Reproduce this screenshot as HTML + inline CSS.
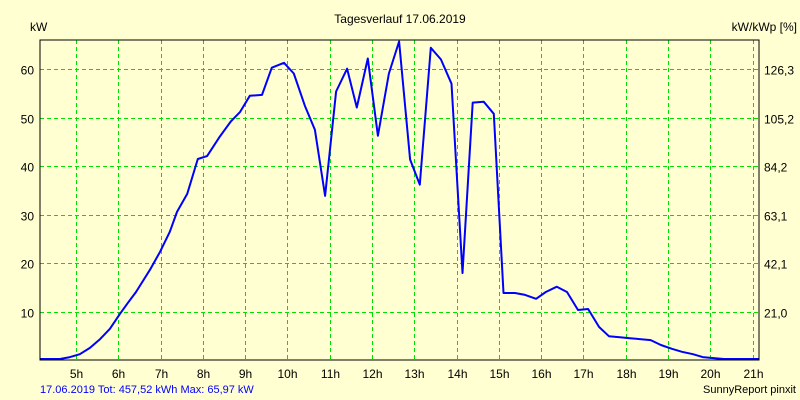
<!DOCTYPE html>
<html><head><meta charset="utf-8"><style>
html,body{margin:0;padding:0;background:#ffffd2;}
svg{display:block;font-family:"Liberation Sans",sans-serif;}
</style></head><body>
<svg id="chart" width="800" height="400">
<rect x="0" y="0" width="800" height="400" fill="#ffffd2"/>
<text x="400" y="23" font-size="12" text-anchor="middle" fill="#000">Tagesverlauf 17.06.2019</text>
<text x="30" y="31" font-size="12" fill="#000">kW</text>
<text x="797" y="31" font-size="12" text-anchor="end" fill="#000">kW/kWp [%]</text>
<g id="grid"></g>
<g id="labels"></g>
<polyline id="line" fill="none" stroke="#0000ff" stroke-width="2" stroke-linejoin="round"/>
<rect x="40" y="40" width="719" height="320" fill="none" stroke="#000" stroke-width="1"/>
<text x="40" y="393" font-size="11" fill="#0000ff">17.06.2019 Tot: 457,52 kWh Max: 65,97 kW</text>
<text x="796" y="393" font-size="11" text-anchor="end" fill="#000">SunnyReport pinxit</text>
</svg>
<script>
const hours=[4.15,4.62,4.86,5.09,5.33,5.57,5.80,6.04,6.23,6.42,6.75,6.99,7.22,7.39,7.63,7.88,8.10,8.40,8.66,8.88,9.11,9.40,9.63,9.92,10.15,10.41,10.65,10.89,11.15,11.41,11.64,11.90,12.14,12.40,12.64,12.90,13.13,13.39,13.63,13.88,14.14,14.38,14.64,14.88,15.11,15.38,15.62,15.88,16.11,16.37,16.61,16.87,17.11,17.37,17.60,17.86,18.10,18.33,18.59,18.83,19.09,19.33,19.59,19.82,20.08,20.32,21.15];
const powerKW=[0.3,0.3,0.7,1.3,2.6,4.4,6.5,9.6,11.9,14.1,18.7,22.4,26.5,30.6,34.3,41.5,42.1,46.1,49.2,51.2,54.5,54.7,60.3,61.3,59.1,52.5,47.5,33.9,55.4,60.1,52.1,62.2,46.3,59.1,65.7,41.4,36.2,64.4,62.0,57.0,18.0,53.1,53.3,50.8,13.9,13.9,13.5,12.7,14.1,15.2,14.1,10.4,10.6,6.9,5.0,4.8,4.6,4.4,4.2,3.2,2.4,1.8,1.3,0.7,0.5,0.3,0.3];
const xTicks=[5,6,7,8,9,10,11,12,13,14,15,16,17,18,19,20,21];
const yTicks=[10,20,30,40,50,60];
const yRightLabels=["21,0","42,1","63,1","84,2","105,2","126,3"];
const X0=40,X1=759,Y0=360.5,Y1=40;
const H0=4.15,H1=21.15,V0=0,V1=66.0;
function xs(h){return X0+(h-H0)/(H1-H0)*(X1-X0);}
function ys(v){return Y0-(v-V0)/(V1-V0)*(Y0-Y1);}
const NS="http://www.w3.org/2000/svg";
const grid=document.getElementById('grid'),labels=document.getElementById('labels');
xTicks.forEach(h=>{
  const x=Math.round(xs(h))+0.5;
  const l=document.createElementNS(NS,'line');
  l.setAttribute('x1',x);l.setAttribute('x2',x);l.setAttribute('y1',40);l.setAttribute('y2',360);
  l.setAttribute('stroke','#00e000');l.setAttribute('stroke-dasharray','4,3');
  
  
  grid.appendChild(l);
  const t=document.createElementNS(NS,'text');
  t.setAttribute('x',x);t.setAttribute('y',378);t.setAttribute('font-size','12');t.setAttribute('text-anchor','middle');
  t.textContent=h+'h';
  
  
  labels.appendChild(t);
});
yTicks.forEach((v,i)=>{
  const y=Math.round(ys(v))+0.5;
  const l=document.createElementNS(NS,'line');
  l.setAttribute('x1',40);l.setAttribute('x2',759);l.setAttribute('y1',y);l.setAttribute('y2',y);
  l.setAttribute('stroke','#00e000');l.setAttribute('stroke-dasharray','4,3');
  
  
  grid.appendChild(l);
  const t=document.createElementNS(NS,'text');
  t.setAttribute('x',34);t.setAttribute('y',y+5);t.setAttribute('font-size','12');t.setAttribute('text-anchor','end');
  t.textContent=v;
  
  
  labels.appendChild(t);
  const r=document.createElementNS(NS,'text');
  r.setAttribute('x',764);r.setAttribute('y',y+5);r.setAttribute('font-size','12');
  r.textContent=yRightLabels[i];
  
  
  labels.appendChild(r);
});
document.getElementById('line').setAttribute('points',hours.map((h,i)=>xs(h).toFixed(1)+','+ys(powerKW[i]).toFixed(1)).join(' '));
</script>
</body></html>
